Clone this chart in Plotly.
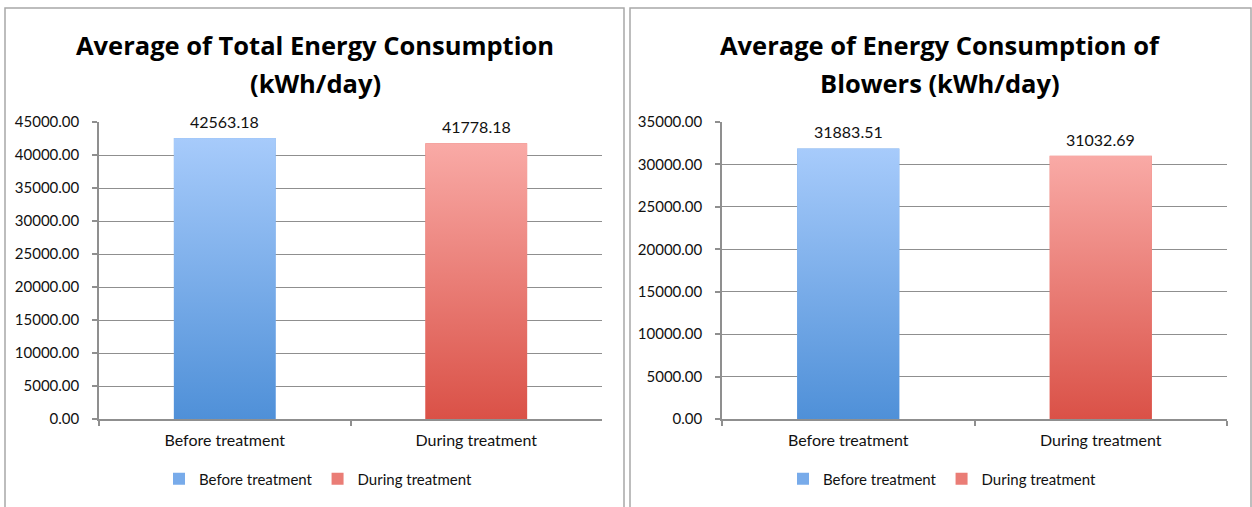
import base64
import plotly.graph_objects as go

categories = ["Before treatment", "During treatment"]
total_energy = [42563.18, 41778.18]
blower_energy = [31883.51, 31032.69]
title_left = ["Average of Total Energy Consumption", "(kWh/day)"]
title_right = ["Average of Energy Consumption of", "Blowers (kWh/day)"]
y_range_left = [0, 45000]
y_range_right = [0, 35000]

W, H = 1252, 507
FONT = "Lato"
TITLE_FONT = "Open Sans"
TXT = "#111111"
GRID = "#8f8f8f"
BAR_W = 0.405
grad = {
    "Before treatment": ("#a7cbfb", "#4f90d8"),
    "During treatment": ("#f9aaa6", "#da5147"),
}
mid = {"Before treatment": "#78abea", "During treatment": "#ea7d76"}


def px_x(p):
    return p / W


def px_y(p):
    return 1 - p / H


def grad_uri(top, bottom):
    svg = (
        '<svg xmlns="http://www.w3.org/2000/svg" width="10" height="100" '
        'preserveAspectRatio="none"><defs><linearGradient id="g" x1="0" y1="0" '
        f'x2="0" y2="1"><stop offset="0" stop-color="{top}"/><stop offset="1" '
        f'stop-color="{bottom}"/></linearGradient></defs><rect width="10" '
        'height="100" fill="url(#g)"/></svg>'
    )
    return "data:image/svg+xml;base64," + base64.b64encode(svg.encode()).decode()


fig = go.Figure()

panels = [
    dict(vals=total_energy, xa="x", ya="y", leg="legend", rng=y_range_left,
         title=title_left, cx=315),
    dict(vals=blower_energy, xa="x2", ya="y2", leg="legend2", rng=y_range_right,
         title=title_right, cx=940),
]

annotations = []
images = []
for p in panels:
    for i, (cat, v) in enumerate(zip(categories, p["vals"])):
        fig.add_trace(go.Bar(
            x=[cat], y=[v], name=cat, width=BAR_W,
            marker=dict(color=mid[cat], line=dict(width=0)),
            xaxis=p["xa"], yaxis=p["ya"], legend=p["leg"],
        ))
        top, bottom = grad[cat]
        images.append(dict(
            source=grad_uri(top, bottom), xref=p["xa"] + " domain", yref=p["ya"],
            x=(i + 0.5) / len(categories), y=v, sizex=BAR_W / len(categories),
            sizey=v, xanchor="center", yanchor="top", sizing="stretch",
            layer="above",
        ))
        annotations.append(dict(
            x=cat, y=v, xref=p["xa"], yref=p["ya"], text=f"{v:.2f}",
            showarrow=False, yanchor="bottom", yshift=5,
            font=dict(family=FONT, size=16, color=TXT),
        ))
    for j, line in enumerate(p["title"]):
        annotations.append(dict(
            x=px_x(p["cx"]), y=px_y(45 + 38 * j), xref="paper", yref="paper",
            text=f"<b>{line}</b>", showarrow=False, xanchor="center",
            yanchor="middle", font=dict(family=TITLE_FONT, size=25.5, color="#000000"),
        ))

axis_common = dict(showline=True, linecolor=GRID, linewidth=1.5, ticks="outside",
                   ticklen=5, tickcolor=GRID, tickwidth=1.5, automargin=False)
xdef = dict(type="category", tickson="boundaries", range=[-0.5, 1.5],
            showgrid=False, ticklabelstandoff=6,
            tickfont=dict(family=FONT, size=16, color=TXT), **axis_common)
ydef = dict(tickformat=".2f", dtick=5000, showgrid=True, gridcolor=GRID,
            gridwidth=1, zeroline=False, ticklabelstandoff=10,
            tickfont=dict(family=FONT, size=15, color=TXT), **axis_common)

shapes = [
    dict(type="rect", xref="paper", yref="paper", x0=px_x(5), x1=px_x(624),
         y0=px_y(520), y1=px_y(8), line=dict(color="#a8a8a8", width=1.5)),
    dict(type="rect", xref="paper", yref="paper", x0=px_x(630), x1=px_x(1251),
         y0=px_y(520), y1=px_y(8), line=dict(color="#a8a8a8", width=1.5)),
]

legend_common = dict(orientation="h", yanchor="middle", xanchor="center",
                     font=dict(family=FONT, size=15, color=TXT),
                     bgcolor="rgba(0,0,0,0)", itemclick=False)

fig.update_layout(
    width=W, height=H, margin=dict(l=0, r=0, t=0, b=0, autoexpand=False),
    paper_bgcolor="white", plot_bgcolor="white",
    barmode="overlay", showlegend=True,
    xaxis=dict(domain=[px_x(99), px_x(602)], anchor="y", **xdef),
    yaxis=dict(domain=[px_y(419), px_y(122)], anchor="x", range=y_range_left, **ydef),
    xaxis2=dict(domain=[px_x(722), px_x(1227)], anchor="y2", **xdef),
    yaxis2=dict(domain=[px_y(419), px_y(122)], anchor="x2", range=y_range_right, **ydef),
    legend=dict(x=px_x(318), y=px_y(479), **legend_common),
    legend2=dict(x=px_x(942), y=px_y(479), **legend_common),
    annotations=annotations, images=images, shapes=shapes,
)

fig.write_html("out.html")
